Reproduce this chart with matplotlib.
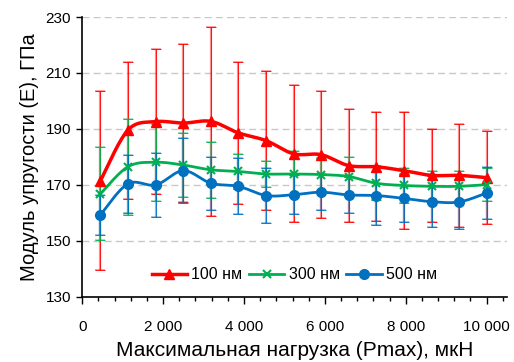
import numpy as np
import matplotlib
matplotlib.use('Agg')
import matplotlib.pyplot as plt
from matplotlib.ticker import FuncFormatter, MultipleLocator

plt.rcParams['font.family'] = ['Liberation Sans', 'DejaVu Sans']

# Data
load = [450, 1130, 1820, 2500, 3180, 3860, 4550, 5230, 5910, 6590, 7270, 7950, 8640, 9320, 10000]

e100 = [171.5, 189.6, 192.6, 192.1, 192.7, 188.6, 185.8, 181.1, 180.8, 176.9, 176.5, 175.1, 173.4, 173.4, 172.6]
err100 = [32.0, 24.5, 26.0, 28.1, 33.7, 25.3, 24.8, 24.5, 22.8, 20.2, 19.4, 20.8, 16.6, 18.4, 16.5]

e300 = [166.8, 176.5, 178.1, 177.1, 175.4, 174.8, 173.9, 173.9, 173.7, 173.0, 170.6, 169.8, 169.5, 169.5, 170.1]
err300 = [16.6, 17.2, 13.7, 11.5, 10.0, 6.3, 4.8, 8.1, 6.0, 6.9, 6.0, 6.4, 5.4, 5.4, 6.0]

e500 = [159.3, 170.4, 170.0, 175.1, 170.6, 169.5, 166.2, 166.5, 167.4, 166.4, 166.2, 165.2, 164.0, 163.9, 167.1]
err500 = [7.1, 10.4, 11.4, 11.5, 9.5, 10.0, 9.9, 6.9, 6.4, 6.3, 10.4, 8.6, 9.2, 9.7, 9.2]

labels = ['100 нм', '300 нм', '500 нм']
yticks = [130, 150, 170, 190, 210, 230]


def smooth(x, y, n=20):
    # Excel-like smoothed line (cubic Bezier through the points)
    x = np.asarray(x, float)
    y = np.asarray(y, float)
    px = np.concatenate([[x[0]], x, [x[-1]]])
    py = np.concatenate([[y[0]], y, [y[-1]]])
    xs, ys = [], []
    t = np.linspace(0, 1, n)
    for i in range(1, len(px) - 2):
        p0 = np.array([px[i], py[i]])
        p3 = np.array([px[i + 1], py[i + 1]])
        p1 = p0 + (np.array([px[i + 1], py[i + 1]]) - np.array([px[i - 1], py[i - 1]])) / 6
        p2 = p3 - (np.array([px[i + 2], py[i + 2]]) - np.array([px[i], py[i]])) / 6
        b = ((1 - t) ** 3)[:, None] * p0 + (3 * (1 - t) ** 2 * t)[:, None] * p1 \
            + (3 * (1 - t) * t ** 2)[:, None] * p2 + (t ** 3)[:, None] * p3
        xs.extend(b[:, 0])
        ys.extend(b[:, 1])
    return xs, ys


fig = plt.figure(figsize=(5.14, 3.62), dpi=100)
ax = fig.add_axes([0.16, 0.18, 0.826, 0.773])

series = [
    (e100, err100, '#FF0000', '^', 7, 2.5),
    (e300, err300, '#00B050', 'x', 6, 2.0),
    (e500, err500, '#0070C0', 'o', 7, 2.0),
]

handles = []
for (vals, errs, col, mk, ms, lw), lab in zip(series, labels):
    ax.errorbar(load, vals, yerr=errs, fmt='none', ecolor=col, elinewidth=1.6,
                alpha=0.45, capsize=3.5, capthick=1.2, zorder=2)
    ax.errorbar(load, vals, yerr=errs, fmt='none', ecolor=col, elinewidth=0.6,
                capsize=3.5, capthick=0.6, zorder=2)
    sx, sy = smooth(load, vals)
    ax.plot(sx, sy, color=col, lw=lw, zorder=3)
    ax.plot(load, vals, ls='none', marker=mk, ms=ms, color=col,
            mew=1.5 if mk == 'x' else 1, zorder=4)
    h, = ax.plot([], [], color=col, lw=lw, marker=mk, ms=ms,
                 mew=1.5 if mk == 'x' else 1)
    handles.append(h)

ax.set_xlim(0, 10500)
ax.set_ylim(130, 230)
ax.xaxis.set_major_locator(MultipleLocator(2000))
ax.xaxis.set_minor_locator(MultipleLocator(400))
ax.set_yticks(yticks)
ax.xaxis.set_major_formatter(FuncFormatter(lambda v, p: f'{int(v):,}'.replace(',', ' ')))
ax.tick_params(axis='x', which='major', length=5, width=1, labelsize=11, pad=12)
ax.tick_params(axis='x', which='minor', length=3, width=1)
ax.tick_params(axis='y', which='major', length=4, width=1, labelsize=11, pad=4)

for s in ['top', 'right']:
    ax.spines[s].set_visible(False)
for s in ['left', 'bottom']:
    ax.spines[s].set_linewidth(1.2)

for v in yticks[1:]:
    ax.axhline(v, color='#c8c8c8', lw=1, ls=(0, (5, 3)), zorder=1)

ax.set_xlabel('Максимальная нагрузка (Pmax), мкН', fontsize=15, labelpad=5)
ax.set_ylabel('Модуль упругости (E), ГПа', fontsize=14.5, labelpad=5)

ax.legend(handles, labels, loc='lower center', bbox_to_anchor=(0.5, 0.0), ncol=3,
          frameon=False, fontsize=11.5, handlelength=2.2, handletextpad=0.3,
          columnspacing=0.4)

fig.savefig('out.png', dpi=100)
